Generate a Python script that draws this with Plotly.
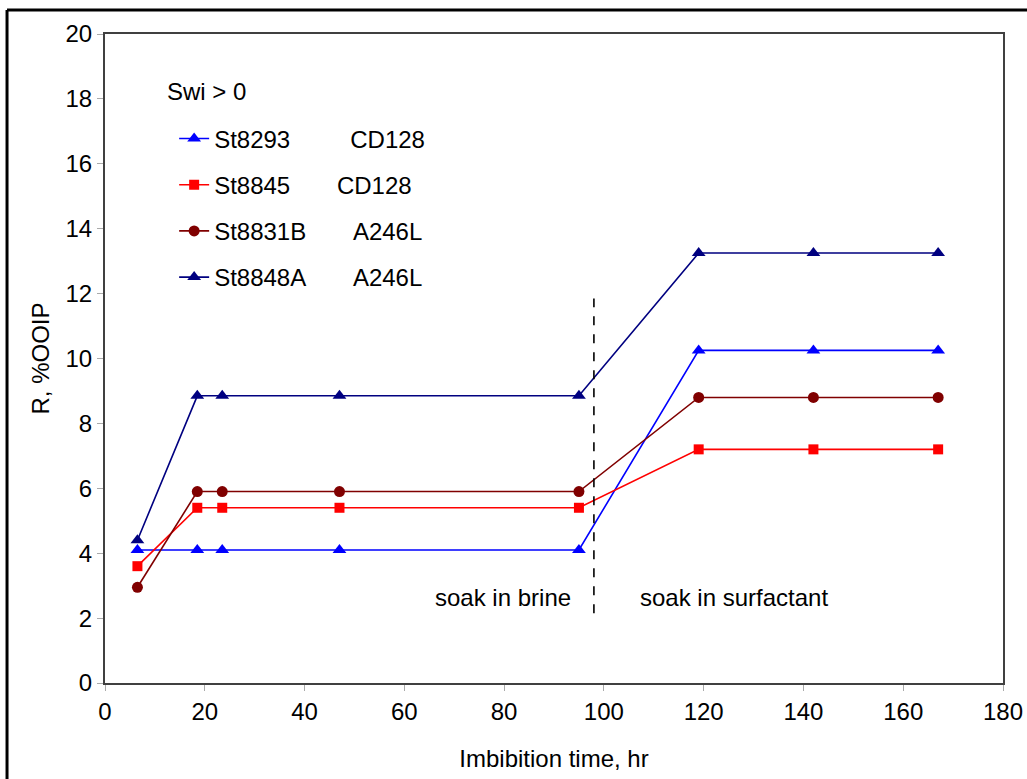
import plotly.graph_objects as go

# ---- data ----
time_hr = [6.5, 18.5, 23.5, 47, 95, 119, 142, 167]
st8293 = [4.1, 4.1, 4.1, 4.1, 4.1, 10.25, 10.25, 10.25]
st8845 = [3.6, 5.4, 5.4, 5.4, 5.4, 7.2, 7.2, 7.2]
st8831b = [2.95, 5.9, 5.9, 5.9, 5.9, 8.8, 8.8, 8.8]
st8848a = [4.4, 8.85, 8.85, 8.85, 8.85, 13.25, 13.25, 13.25]

NB = "\u00a0"
series_names = [
    "St8293" + NB * 9 + "CD128",
    "St8845" + NB * 7 + "CD128",
    "St8831B" + NB * 7 + "A246L",
    "St8848A" + NB * 7 + "A246L",
]
series_values = [st8293, st8845, st8831b, st8848a]
series_colors = ["#0000FF", "#FF0000", "#800000", "#000080"]
series_symbols = ["triangle-up", "square", "circle", "triangle-up"]
series_sizes = [12, 10, 11, 12]

x_ticks = [0, 20, 40, 60, 80, 100, 120, 140, 160, 180]
y_ticks = [0, 2, 4, 6, 8, 10, 12, 14, 16, 18, 20]

divider_x = 98
divider_y = [2.15, 11.85]
labels = ["soak in brine", "soak in surfactant"]
label_x = [79.8, 126]
label_y = 2.62
legend_title = "Swi > 0"

FONT = "Liberation Sans, Arial, sans-serif"
FS = 24

fig = go.Figure()
for name, vals, col, sym, sz in zip(series_names, series_values, series_colors,
                                   series_symbols, series_sizes):
    fig.add_trace(go.Scatter(
        x=time_hr, y=vals, mode="lines+markers", name=name,
        legendgroup=name,
        line=dict(color=col, width=1.6),
        marker=dict(color=col, symbol=sym, size=sz, line=dict(width=0)),
    ))

fig.add_shape(type="line", xref="x", yref="y",
              x0=divider_x, x1=divider_x, y0=divider_y[0], y1=divider_y[1],
              line=dict(color="black", width=1.6, dash="dash"))

for t, lx in zip(labels, label_x):
    fig.add_annotation(x=lx, y=label_y, xref="x", yref="y", text=t,
                       showarrow=False, font=dict(family=FONT, size=FS, color="black"))

fig.add_annotation(x=0.067, y=0.911, xref="paper", yref="paper", text=legend_title,
                   xanchor="left", yanchor="middle", showarrow=False,
                   font=dict(family=FONT, size=FS, color="black"))

# outer frame (image border, left and top)
fig.add_shape(type="line", xref="paper", yref="paper",
              x0=-0.1091, x1=-0.1091, y0=-0.2, y1=1.037,
              line=dict(color="black", width=3))
fig.add_shape(type="line", xref="paper", yref="paper",
              x0=-0.1091, x1=1.1, y0=1.037, y1=1.037,
              line=dict(color="black", width=3))

axis_common = dict(
    showgrid=False, zeroline=False, automargin=False,
    showline=True, linecolor="#404040", linewidth=2, mirror=True,
    ticks="outside", ticklen=6, tickcolor="#aaaaaa", tickwidth=1,
    tickfont=dict(family=FONT, size=FS, color="black"),
)

fig.update_layout(
    width=1027, height=779,
    margin=dict(l=105, r=24, t=34, b=96),
    paper_bgcolor="white", plot_bgcolor="white",
    font=dict(family=FONT, size=FS, color="black"),
    xaxis=dict(range=[0, 180], tickvals=x_ticks,
               title=dict(text="Imbibition time, hr", standoff=26,
                          font=dict(family=FONT, size=FS)),
               **axis_common),
    yaxis=dict(range=[0, 20], tickvals=y_ticks,
               title=dict(text="R, %OOIP", standoff=9,
                          font=dict(family=FONT, size=FS)),
               **axis_common),
    legend=dict(
        x=0.077, y=0.873, xanchor="left", yanchor="top",
        bgcolor="rgba(0,0,0,0)",
        font=dict(family=FONT, size=FS, color="black"),
        traceorder="grouped", tracegroupgap=12,
        itemwidth=30,
    ),
    showlegend=True,
)

fig.write_html("out.html")
